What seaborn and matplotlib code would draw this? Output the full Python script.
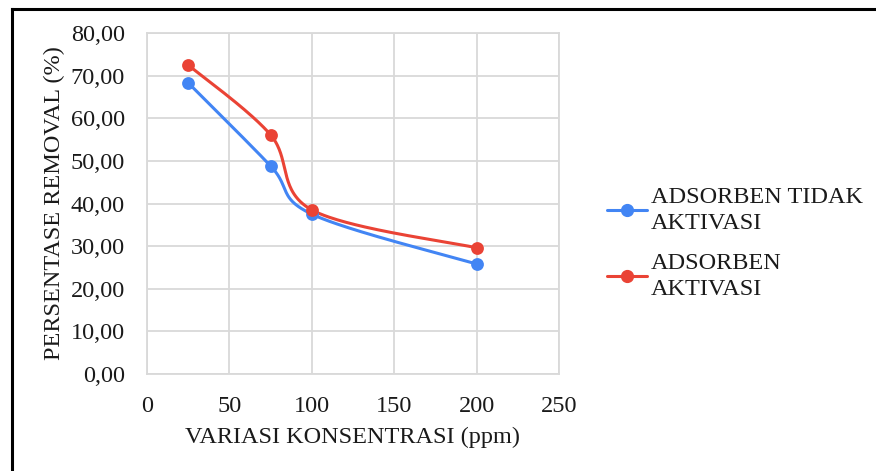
import numpy as np
import pandas as pd
import matplotlib
matplotlib.use("Agg")
import matplotlib.pyplot as plt
from matplotlib.lines import Line2D
from matplotlib.ticker import FuncFormatter
import seaborn as sns

# Concentration variations (ppm) and removal percentages
konsentrasi = [25, 75, 100, 200]
tidak_aktivasi = [68.3, 48.8, 37.5, 25.8]
aktivasi = [72.5, 56.1, 38.5, 29.6]
series_labels = ["ADSORBEN TIDAK\nAKTIVASI", "ADSORBEN\nAKTIVASI"]
series_colors = ["#4285F4", "#EA4335"]
x_ticks = [0, 50, 100, 150, 200, 250]
y_ticks = [0, 10, 20, 30, 40, 50, 60, 70, 80]


def smooth_curve(xs, ys, n=60):
    """Catmull-Rom style Bezier smoothing through the given points."""
    p = np.column_stack([xs, ys]).astype(float)
    out = []
    for i in range(len(p) - 1):
        p0 = p[i - 1] if i > 0 else p[i]
        p1, p2 = p[i], p[i + 1]
        p3 = p[i + 2] if i + 2 < len(p) else p[i + 1]
        c1 = p1 + (p2 - p0) / 6.0
        c2 = p2 - (p3 - p1) / 6.0
        t = np.linspace(0, 1, n)[:, None]
        seg = ((1 - t) ** 3) * p1 + 3 * ((1 - t) ** 2) * t * c1 + 3 * (1 - t) * t ** 2 * c2 + t ** 3 * p2
        out.append(seg if i == 0 else seg[1:])
    arr = np.vstack(out)
    return arr[:, 0], arr[:, 1]


sns.set_theme(style="white")
plt.rcParams["font.family"] = ["Liberation Serif", "DejaVu Serif"]

FS = 17.5
TXT = "#1a1a1a"

fig = plt.figure(figsize=(8.76, 4.71), dpi=100)
ax = fig.add_axes([147 / 876, 1 - 374 / 471, (559 - 147) / 876, (374 - 33) / 471])

for ys, color in zip([tidak_aktivasi, aktivasi], series_colors):
    sx, sy = smooth_curve(konsentrasi, ys)
    curve = pd.DataFrame({"x": sx, "y": sy})
    sns.lineplot(data=curve, x="x", y="y", ax=ax, color=color, linewidth=2.2,
                 sort=False, estimator=None, zorder=3)
    pts = pd.DataFrame({"x": konsentrasi, "y": ys})
    sns.scatterplot(data=pts, x="x", y="y", ax=ax, color=color, s=85,
                    edgecolor=color, linewidth=0, zorder=4)

ax.set_xlim(0, 250)
ax.set_ylim(0, 80)
ax.set_xticks(x_ticks)
ax.set_yticks(y_ticks)
ax.yaxis.set_major_formatter(FuncFormatter(lambda v, _: f"{v:.2f}".replace(".", ",")))
ax.grid(True, color="#d9d9d9", linewidth=1.3)
ax.set_axisbelow(True)
for s in ax.spines.values():
    s.set_color("#d9d9d9")
    s.set_linewidth(1.3)
ax.tick_params(axis="y", length=0, labelsize=FS, colors=TXT, pad=16)
ax.tick_params(axis="x", length=0, labelsize=FS, colors=TXT, pad=16)
ax.set_xlabel("VARIASI KONSENTRASI (ppm)", fontsize=FS, color=TXT, labelpad=7)
ax.set_ylabel("PERSENTASE REMOVAL (%)", fontsize=FS, color=TXT, labelpad=4)

handles = [Line2D([0], [0], color=c, linewidth=2.2, marker="o", markersize=8.5)
           for c in series_colors]
leg = fig.legend(handles, series_labels, loc="upper left",
                 bbox_to_anchor=(585 / 876, 1 - 165 / 471), frameon=False,
                 fontsize=FS, handlelength=1.65, handletextpad=0.15,
                 labelspacing=0.75, labelcolor=TXT)
for t in leg.get_texts():
    t.set_linespacing(1.35)

# Frame lines along the top and left edges of the figure
fig.add_artist(Line2D([11.5 / 876, 11.5 / 876], [0, 1 - 9 / 471], transform=fig.transFigure,
                      color="black", linewidth=2.2, solid_capstyle="projecting"))
fig.add_artist(Line2D([11.5 / 876, 1], [1 - 9 / 471, 1 - 9 / 471], transform=fig.transFigure,
                      color="black", linewidth=2.2, solid_capstyle="projecting"))

fig.savefig("out.png", dpi=100)
